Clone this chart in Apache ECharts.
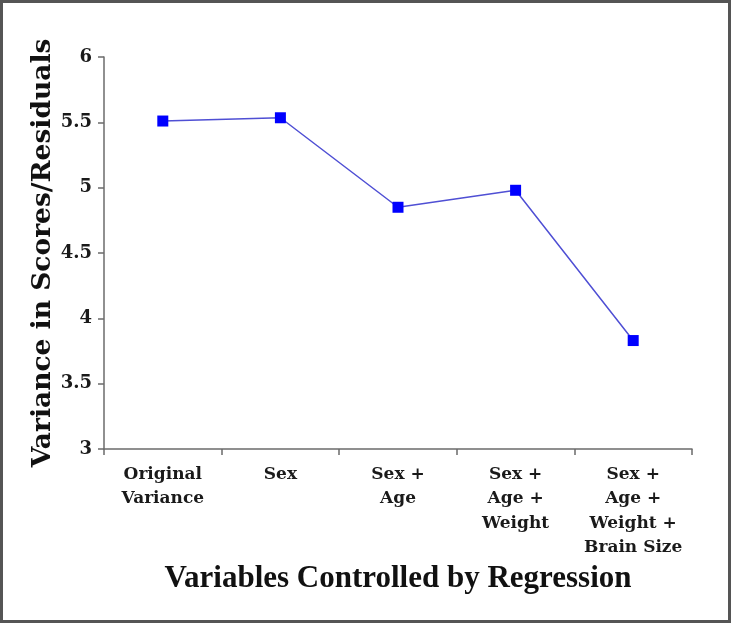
<!DOCTYPE html>
<html>
<head>
<meta charset="utf-8">
<script src="https://cdn.jsdelivr.net/npm/echarts@6/dist/echarts.min.js"></script>
<style>
html,body{margin:0;padding:0;background:#fff;}
#chart{width:731px;height:623px;}
</style>
</head>
<body>
<div id="chart"></div>
<script>
const categories = ['Original\nVariance', 'Sex', 'Sex +\nAge', 'Sex +\nAge +\nWeight', 'Sex +\nAge +\nWeight +\nBrain Size'];
const values = [5.51, 5.535, 4.85, 4.98, 3.83];
const yTicks = { min: 3, max: 6, interval: 0.5 };
const xTitle = 'Variables Controlled by Regression';
const yTitle = 'Variance in Scores/Residuals';

const chart = echarts.init(document.getElementById('chart'), null, { renderer: 'canvas' });
chart.setOption({
  backgroundColor: '#fff',
  animation: false,
  graphic: [{
    type: 'rect',
    shape: { x: 1.5, y: 1.5, width: 728, height: 620 },
    style: { fill: 'none', stroke: '#555', lineWidth: 3 },
    z: 100
  }],
  grid: { left: 104, right: 39, top: 57, bottom: 174, containLabel: false },
  xAxis: {
    type: 'category',
    data: categories,
    boundaryGap: true,
    name: xTitle,
    nameLocation: 'middle',
    nameGap: 114,
    nameMoveOverlap: false,
    nameTextStyle: { fontFamily: 'Liberation Serif', fontWeight: 'bold', fontSize: 31, color: '#111' },
    axisLine: { lineStyle: { color: '#6b6b6b', width: 1.5 } },
    axisTick: { show: true, length: 6, alignWithLabel: false, lineStyle: { color: '#6b6b6b', width: 1.5 } },
    axisLabel: { interval: 0, margin: 13, fontFamily: 'DejaVu Serif', fontWeight: 'bold', fontSize: 17, lineHeight: 24.5, color: '#1a1a1a' },
    splitLine: { show: false }
  },
  yAxis: {
    type: 'value',
    min: yTicks.min, max: yTicks.max, interval: yTicks.interval,
    name: yTitle,
    nameLocation: 'middle',
    nameRotate: 90,
    nameGap: 47,
    nameMoveOverlap: false,
    nameTextStyle: { fontFamily: 'DejaVu Serif', fontWeight: 'bold', fontSize: 26.5, color: '#111' },
    axisLine: { show: true, lineStyle: { color: '#6b6b6b', width: 1.5 } },
    axisTick: { show: true, length: 6, lineStyle: { color: '#6b6b6b', width: 1.5 } },
    axisLabel: { margin: 12, fontFamily: 'DejaVu Serif', fontWeight: 'bold', fontSize: 18, color: '#1a1a1a' },
    splitLine: { show: false }
  },
  series: [{
    type: 'line',
    data: values,
    symbol: 'rect',
    symbolSize: 11,
    itemStyle: { color: '#0000ff' },
    lineStyle: { color: '#4f4fd4', width: 1.5 }
  }]
});
</script>
</body>
</html>
